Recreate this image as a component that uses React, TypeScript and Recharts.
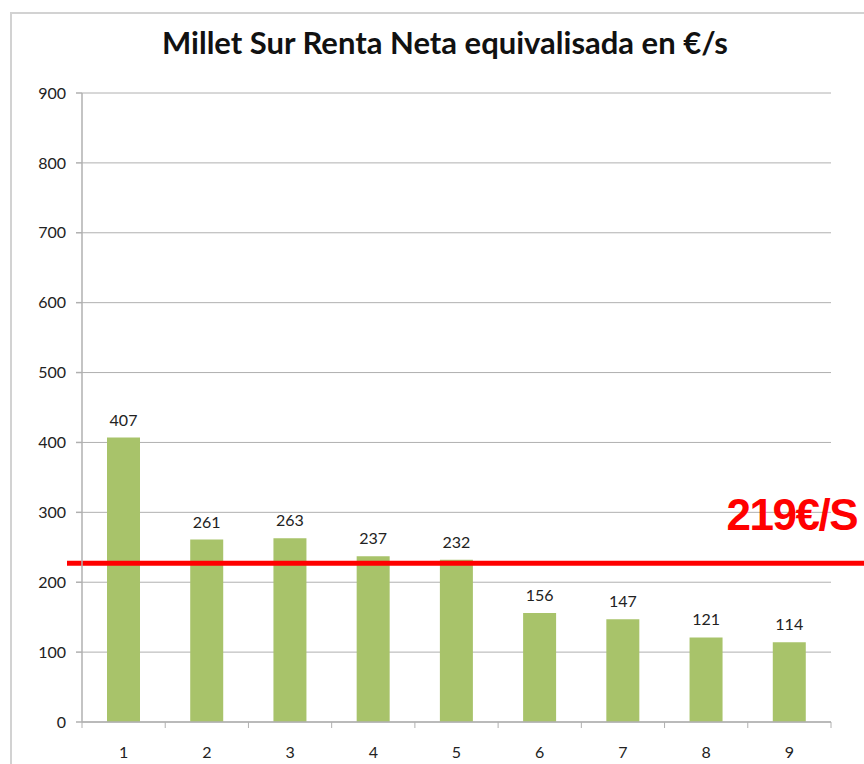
import { Bar, BarChart, CartesianGrid, LabelList, ReferenceLine, XAxis, YAxis } from "recharts"

const categories = ["1", "2", "3", "4", "5", "6", "7", "8", "9"]
const values = [407, 261, 263, 237, 232, 156, 147, 121, 114]
const yTicks = [0, 100, 200, 300, 400, 500, 600, 700, 800, 900]
const averageLine = 227
const averageLabel = "219€/S"

const chartData = categories.map((name, i) => ({ name, value: values[i] }))

const FONT = "Lato, 'Open Sans', sans-serif"
const GRID = "#b0b0b0"

const XTick = ({ x, y, payload, index }: any) => {
  const half = payload.offset || 0
  return (
    <g>
      <line x1={x - half} x2={x - half} y1={y - 8} y2={y - 2} stroke={GRID} />
      {index === categories.length - 1 && (
        <line x1={x + half} x2={x + half} y1={y - 8} y2={y - 2} stroke={GRID} />
      )}
      <text x={x} y={y + 28} textAnchor="middle" fontFamily={FONT} fontSize={16} fill="#222">
        {payload.value}
      </text>
    </g>
  )
}

const RedLine = (props: any) => {
  const y = props.y1
  return <line x1={67} x2={864} y1={y} y2={y} stroke="#ff0000" strokeWidth={5} />
}

const RedLabel = (props: any) => {
  const { viewBox } = props
  return (
    <text
      x={viewBox.x + viewBox.width + 26}
      y={viewBox.y - 33}
      textAnchor="end"
      fontFamily="'Liberation Sans', Arial, sans-serif"
      fontWeight={700}
      fontSize={44}
      letterSpacing={-1.5}
      fill="#ff0000"
    >
      {averageLabel}
    </text>
  )
}

export default function App() {
  return (
    <div style={{ position: "absolute", left: 0, top: 0, width: 864, height: 764, background: "#fff", overflow: "hidden" }}>
      <div
        style={{
          position: "absolute",
          left: 10,
          top: 12,
          width: 900,
          height: 800,
          borderLeft: "2px solid #d2d2d2",
          borderTop: "2px solid #d2d2d2",
        }}
      />
      <div
        style={{
          position: "absolute",
          left: 0,
          width: 890,
          top: 24,
          textAlign: "center",
          fontFamily: FONT,
          fontWeight: 700,
          fontSize: 31,
          lineHeight: 1.2,
          color: "#111",
        }}
      >
        Millet Sur Renta Neta equivalisada en €/s
      </div>
      <div style={{ position: "absolute", left: 0, top: 0 }}>
        <BarChart
          width={864}
          height={764}
          data={chartData}
          margin={{ top: 93, right: 33, bottom: 12, left: 20 }}
          barCategoryGap="30%"
        >
          <CartesianGrid vertical={false} stroke={GRID} />
          <XAxis
            dataKey="name"
            stroke={GRID}
            strokeWidth={1.5}
            tickLine={false}
            height={30}
            tick={<XTick />}
            interval={0}
          />
          <YAxis
            domain={[0, 900]}
            ticks={yTicks}
            width={62}
            stroke={GRID}
            strokeWidth={1.5}
            tickSize={6}
            tickMargin={10}
            tick={{ fontFamily: FONT, fontSize: 16, fill: "#222" }}
          />
          <Bar dataKey="value" fill="#a8c36a" barSize={33} isAnimationActive={false}>
            <LabelList dataKey="value" position="top" offset={12} fontFamily={FONT} fontSize={16} fill="#222" />
          </Bar>
          <ReferenceLine y={averageLine} shape={<RedLine />} label={<RedLabel />} />
        </BarChart>
      </div>
    </div>
  )
}
